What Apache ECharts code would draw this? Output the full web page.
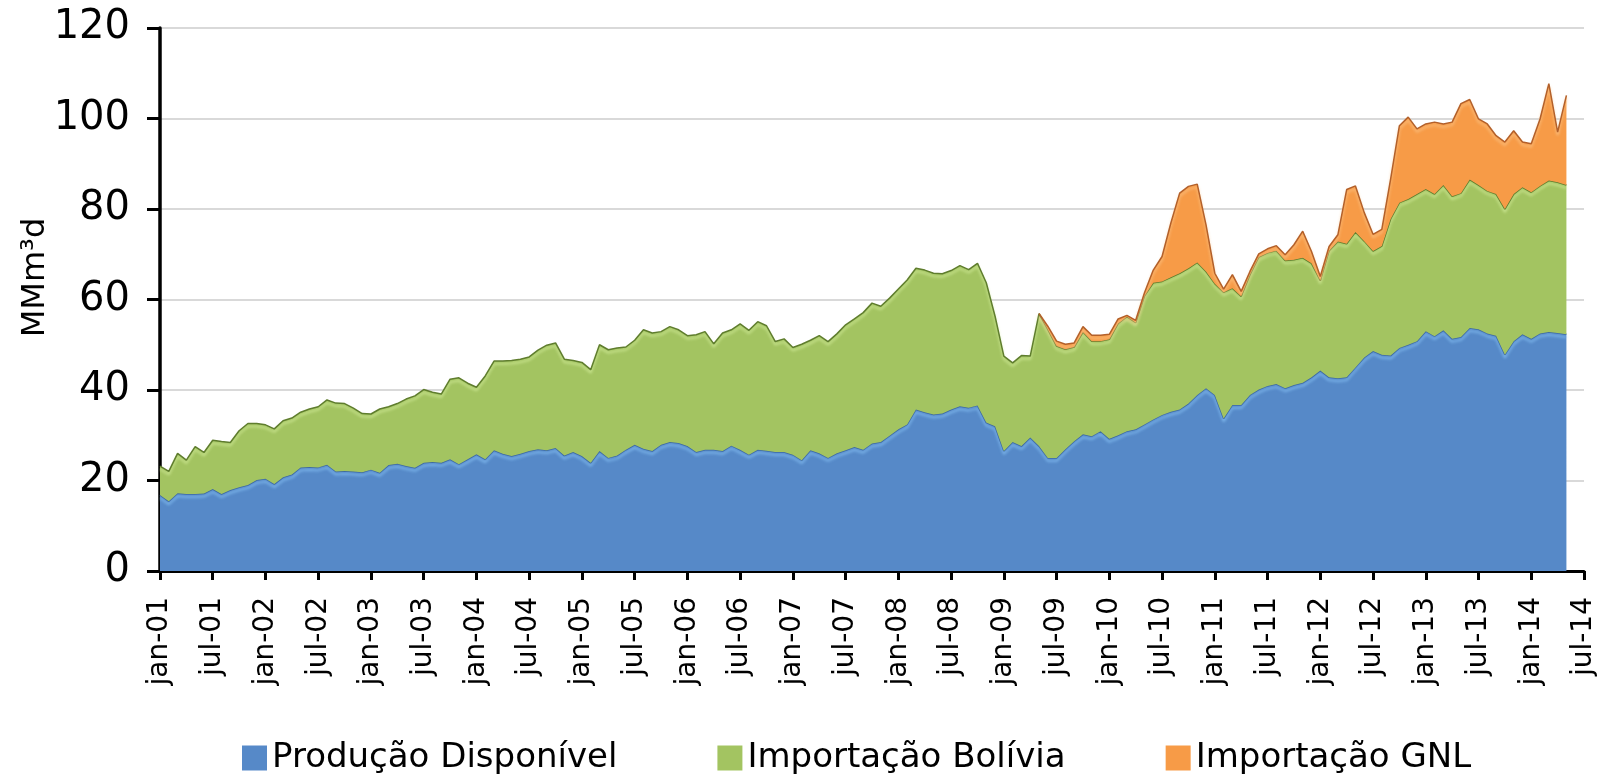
<!DOCTYPE html>
<html>
<head>
<meta charset="utf-8">
<title>Oferta de gás natural</title>
<script src="https://cdn.jsdelivr.net/npm/echarts@6/dist/echarts.min.js"></script>
<style>
  html, body { margin: 0; padding: 0; background: #fff; }
  #chart { width: 1604px; height: 774px; }
</style>
</head>
<body>
<div id="chart"></div>
<script>
// meses (rótulos do eixo x) - jan-01 até jul-14
const meses = ["jan", "fev", "mar", "abr", "mai", "jun", "jul", "ago", "set", "out", "nov", "dez"];
const anoInicio = 2001;
const anoFim = 2014;
const mesFim = 6; // jul-14

const yTicks = [0, 20, 40, 60, 80, 100, 120];

// Produção Disponível (MMm³d), jan-01 .. mai-14
const producao = [
  16.8, 15.4, 17.2, 17.0, 17.0, 17.1, 18.1, 17.0, 17.9, 18.5, 19.0, 20.1,
  20.4, 19.2, 20.7, 21.3, 22.9, 23.0, 22.9, 23.5, 22.0, 22.1, 22.0, 21.8,
  22.4, 21.7, 23.4, 23.7, 23.2, 22.8, 23.9, 24.1, 23.9, 24.7, 23.6, 24.7,
  25.8, 24.7, 26.7, 25.9, 25.4, 25.9, 26.5, 26.9, 26.7, 27.2, 25.5, 26.3,
  25.4, 23.9, 26.5, 25.0, 25.5, 26.8, 27.9, 27.0, 26.5, 27.9, 28.5, 28.3,
  27.6, 26.3, 26.8, 26.8, 26.5, 27.7, 26.8, 25.7, 26.8, 26.6, 26.3, 26.3,
  25.7, 24.5, 26.7, 26.0, 25.0, 26.0, 26.7, 27.4, 26.8, 28.2, 28.5, 29.9,
  31.3, 32.4, 35.7, 35.1, 34.6, 34.8, 35.7, 36.4, 36.1, 36.6, 32.8, 32.0,
  26.5, 28.5, 27.6, 29.5, 27.6, 25.0, 25.0, 26.9, 28.7, 30.2, 29.8, 30.9,
  29.2, 30.0, 30.9, 31.3, 32.4, 33.5, 34.5, 35.2, 35.7, 37.0, 38.9, 40.4,
  38.9, 33.7, 36.7, 36.7, 38.9, 40.1, 40.9, 41.3, 40.4, 41.1, 41.6, 42.8,
  44.3, 42.8, 42.6, 42.8, 45.0, 47.2, 48.6, 47.8, 47.6, 49.3, 50.0, 50.8,
  53.0, 51.9, 53.2, 51.3, 51.7, 53.7, 53.4, 52.5, 52.0, 47.8, 50.8, 52.3,
  51.3, 52.5, 52.8, 52.6, 52.3
];

// Importação Bolívia
const bolivia = [
  6.4, 6.6, 8.8, 7.5, 10.5, 9.1, 10.8, 11.6, 10.5, 12.5, 13.6, 12.5,
  11.9, 12.2, 12.5, 12.5, 12.2, 12.8, 13.4, 14.3, 15.1, 14.9, 14.0, 13.0,
  12.3, 14.1, 12.9, 13.3, 14.8, 15.9, 16.2, 15.4, 15.2, 17.7, 19.1, 16.8,
  14.8, 18.4, 19.7, 20.5, 21.1, 20.9, 20.8, 21.9, 23.2, 23.2, 21.3, 20.2,
  20.7, 20.6, 23.5, 23.9, 23.8, 22.7, 23.1, 26.3, 26.1, 25.0, 25.5, 25.0,
  24.4, 25.9, 26.1, 23.4, 26.1, 25.6, 27.8, 27.5, 28.3, 27.6, 24.4, 25.0,
  23.7, 25.6, 24.3, 26.0, 25.7, 26.4, 27.7, 28.3, 30.3, 31.0, 30.0, 30.4,
  31.0, 31.9, 31.2, 31.4, 31.2, 30.9, 30.7, 31.1, 30.5, 31.4, 30.9, 24.3,
  21.0, 17.5, 20.0, 18.0, 29.3, 28.4, 24.7, 22.1, 20.8, 22.6, 21.0, 19.9,
  22.0, 24.7, 25.3, 23.6, 28.4, 30.2, 29.5, 29.7, 30.1, 29.9, 29.3, 25.8,
  24.6, 27.9, 25.8, 24.0, 26.6, 29.3, 29.4, 29.5, 28.2, 27.7, 27.6, 25.2,
  19.9, 28.0, 30.2, 29.5, 29.9, 25.7, 22.1, 24.0, 30.2, 32.1, 32.2, 32.5,
  31.4, 31.4, 32.1, 31.5, 31.8, 32.8, 31.9, 31.5, 31.3, 32.2, 32.5, 32.5,
  32.4, 32.6, 33.5, 33.3, 33.0
];

// Importação GNL, de mai-09 (índice 100) até mai-14
const gnlInicio = 100;
const gnl = [
  0.0, 0.7, 1.1, 1.1, 0.9, 1.2, 1.3, 1.3, 1.1, 1.0, 0.3, 0.5,
  0.7, 2.8, 5.5, 12.0, 17.7, 18.1, 17.3, 10.3, 2.3, 0.7, 3.0, 1.1,
  0.7, 0.7, 0.9, 1.1, 1.3, 3.3, 5.9, 2.6, 0.9, 0.9, 1.5, 12.0,
  10.2, 6.3, 3.7, 3.7, 8.8, 17.0, 18.1, 14.4, 14.4, 15.9, 13.5, 16.4,
  19.8, 17.7, 14.6, 14.8, 12.9, 14.8, 14.0, 10.0, 10.7, 14.8, 21.4, 11.1,
  19.8
];

const nomes = ["Produção Disponível", "Importação Bolívia", "Importação GNL"];

const categorias = [];
for (let a = anoInicio; a <= anoFim; a++) {
  for (let m = 0; m < 12; m++) {
    if (a === anoFim && m > mesFim) break;
    categorias.push(meses[m] + "-" + String(a % 100).padStart(2, "0"));
  }
}

const gnlSerie = [];
for (let i = 0; i < producao.length; i++) {
  gnlSerie.push(i < gnlInicio ? null : gnl[i - gnlInicio]);
}

const fonte = "DejaVu Sans";

function camada(nome, dados, cor, borda, brilho, z) {
  return {
    name: nome,
    type: "line",
    stack: "oferta",
    data: dados,
    symbol: "none",
    z: z,
    lineStyle: {
      color: borda,
      width: 1.5,
      shadowColor: brilho,
      shadowBlur: 3,
      shadowOffsetY: 3
    },
    areaStyle: { color: cor, opacity: 1 },
    itemStyle: { color: cor },
    emphasis: { disabled: true }
  };
}

const myChart = echarts.init(document.getElementById("chart"));
const option = {
  animation: false,
  textStyle: { fontFamily: fonte },
  grid: { left: 160, right: 20, top: 28, bottom: 203 },
  legend: {
    top: 736,
    left: 237,
    icon: "rect",
    itemWidth: 25,
    itemHeight: 25,
    itemGap: 100,
    data: nomes,
    textStyle: { fontSize: 34, color: "#000", fontFamily: fonte }
  },
  xAxis: {
    type: "category",
    data: categorias,
    boundaryGap: false,
    axisLine: { lineStyle: { color: "#000", width: 3 } },
    axisTick: { interval: 5, length: 9, lineStyle: { color: "#000", width: 3 } },
    axisLabel: {
      interval: 5,
      rotate: 90,
      margin: 26,
      fontSize: 28,
      color: "#000",
      fontFamily: fonte
    },
    splitLine: { show: false }
  },
  yAxis: {
    type: "value",
    min: yTicks[0],
    max: yTicks[yTicks.length - 1],
    interval: yTicks[1] - yTicks[0],
    name: "MMm³d",
    nameLocation: "middle",
    nameGap: 108,
    nameMoveOverlap: false,
    nameTextStyle: { fontSize: 32, color: "#000", fontFamily: fonte, padding: [0, 0, 0, 44] },
    axisLine: { show: true, lineStyle: { color: "#000", width: 3.5 } },
    axisTick: { show: true, length: 13, lineStyle: { color: "#000", width: 3 } },
    axisLabel: { fontSize: 40, color: "#000", margin: 30, fontFamily: fonte },
    splitLine: { lineStyle: { color: "#d9d9d9", width: 2 } }
  },
  series: [
    camada(nomes[0], producao, "#5689c8", "#3d6aa3", "rgba(140,200,250,0.9)", 2),
    camada(nomes[1], bolivia, "#a3c461", "#5f7d2e", "rgba(215,240,160,0.9)", 3),
    camada(nomes[2], gnlSerie, "#f79b47", "#b3602a", "rgba(252,200,140,0.9)", 4)
  ]
};
myChart.setOption(option);
</script>
</body>
</html>
